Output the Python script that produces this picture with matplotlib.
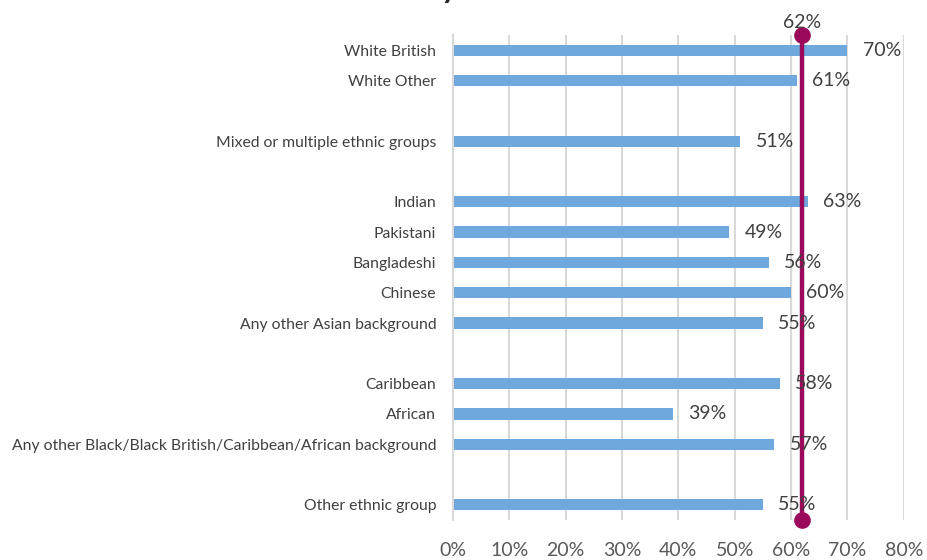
import numpy as np
import matplotlib.pyplot as plt

plt.rcParams['font.family'] = ['Lato', 'DejaVu Sans']

# blank strings are spacer rows between the ethnic group blocks
groups = ['White British', 'White Other', '',
          'Mixed or multiple ethnic groups', '',
          'Indian', 'Pakistani', 'Bangladeshi', 'Chinese', 'Any other Asian background', '',
          'Caribbean', 'African', 'Any other Black/Black British/Caribbean/African background', '',
          'Other ethnic group']
values = [0.70, 0.61, None,
          0.51, None,
          0.63, 0.49, 0.56, 0.60, 0.55, None,
          0.58, 0.39, 0.57, None,
          0.55]
overall = 0.62
xticks = np.arange(0, 0.81, 0.1)

bar_col = '#6FA8DC'
line_col = '#9B0A5A'
text_col = '#404040'

fig = plt.figure(figsize=(9.28, 5.6), dpi=100)
ax = fig.add_axes([0.488, 0.0714, 0.486, 0.866])

pos = np.arange(len(groups))
for y, v in zip(pos, values):
    if v is None:
        continue
    ax.barh(y, v, height=0.37, color=bar_col, zorder=2)
    ax.text(v + 0.027, y, '{:.0f}%'.format(v * 100), va='center', ha='left',
            fontsize=14, color=text_col, zorder=4)

ax.set_ylim(len(groups) - 0.5, -0.5)
ax.set_xlim(0, 0.8)
ax.set_yticks(pos)
ax.set_yticklabels(groups, fontsize=11.3, color=text_col)
ax.set_xticks(xticks)
ax.set_xticklabels(['{:.0f}%'.format(t * 100) for t in xticks], fontsize=14, color='#595959')
ax.tick_params(axis='both', length=0)
ax.tick_params(axis='x', pad=16)
ax.tick_params(axis='y', pad=12)

ax.grid(axis='x', color='#D9D9D9', linewidth=1.5, zorder=0)
for s in ['top', 'right', 'bottom']:
    ax.spines[s].set_visible(False)
ax.spines['left'].set_color('#D9D9D9')
ax.spines['left'].set_linewidth(1.5)

# overall average marker line
ax.plot([overall, overall], [-0.5, len(groups) - 0.5], color=line_col, linewidth=3.2,
        marker='o', markersize=11, clip_on=False, zorder=3)
ax.text(overall, -0.62, '{:.0f}%'.format(overall * 100), ha='center', va='bottom',
        fontsize=14, color=text_col, zorder=4)

fig.text(0.493, 0.995, 'Overall satisfaction by', ha='right', va='bottom',
         fontsize=22, fontweight='bold', color='#262626')

fig.savefig('out.png', dpi=100)
